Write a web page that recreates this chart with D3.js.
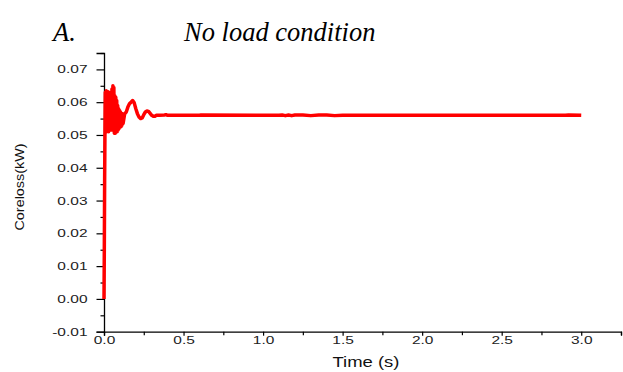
<!DOCTYPE html>
<html>
<head>
<meta charset="utf-8">
<script src="https://cdn.jsdelivr.net/npm/d3@7"></script>
<style>
  html, body { margin: 0; padding: 0; background: #fff; }
  svg { display: block; }
</style>
</head>
<body>
<svg id="chart" width="623" height="372"></svg>
<script>
// Core loss transient, no load condition
const timeS = [
  0, 0.002, 0.004, 0.006, 0.008, 0.011, 0.014, 0.017, 0.020, 0.023, 0.026, 0.029,
  0.032, 0.035, 0.038, 0.041, 0.044, 0.047, 0.050, 0.053, 0.056, 0.059, 0.062,
  0.065, 0.068, 0.071, 0.074, 0.077, 0.080, 0.083, 0.086, 0.089, 0.092, 0.095,
  0.098, 0.101, 0.104, 0.107, 0.110, 0.113, 0.116, 0.120, 0.130, 0.140, 0.150,
  0.160, 0.170, 0.180, 0.190, 0.200, 0.210, 0.220, 0.230, 0.240, 0.250, 0.260,
  0.270, 0.280, 0.290, 0.300, 0.310, 0.320, 0.330, 0.350, 0.380, 0.390, 0.400,
  0.600, 0.610, 1.100, 1.120, 1.140, 1.160, 1.180, 1.200, 1.250, 1.300, 1.350,
  1.400, 1.450, 1.500, 2.000, 2.500, 2.900, 2.920, 3.000
];
const coreLossKW = [
  0.000, 0.015, 0.036, 0.051, 0.063, 0.052, 0.0635, 0.051, 0.063, 0.0525, 0.0632, 0.051,
  0.0628, 0.052, 0.0625, 0.0515, 0.063, 0.052, 0.064, 0.0515, 0.065, 0.052, 0.0645,
  0.0505, 0.062, 0.0505, 0.0615, 0.051, 0.0605, 0.051, 0.059, 0.0515, 0.058, 0.052,
  0.0575, 0.0525, 0.057, 0.0525, 0.0565, 0.053, 0.0565, 0.0535, 0.0565, 0.057, 0.0585,
  0.0595, 0.060, 0.0605, 0.0598, 0.058, 0.0565, 0.0555, 0.055, 0.0552, 0.0562, 0.057,
  0.0573, 0.0572, 0.0566, 0.056, 0.0557, 0.0557, 0.056, 0.056, 0.0561, 0.0562, 0.056,
  0.056, 0.0561, 0.056, 0.0561, 0.0559, 0.0561, 0.0559, 0.0561, 0.0561, 0.0559, 0.0561,
  0.0561, 0.0559, 0.056, 0.056, 0.056, 0.056, 0.0561, 0.056
];
const xMajorTicks = [0, 0.5, 1.0, 1.5, 2.0, 2.5, 3.0];
const xMinorTicks = [0.25, 0.75, 1.25, 1.75, 2.25, 2.75, 3.25];
const yMajorTicks = [-0.01, 0, 0.01, 0.02, 0.03, 0.04, 0.05, 0.06, 0.07];
const yMinorTicks = [-0.005, 0.005, 0.015, 0.025, 0.035, 0.045, 0.055, 0.065, 0.075];

const svg = d3.select("#chart");
const x = d3.scaleLinear().domain([0, 3.25]).range([104, 621]);
const y = d3.scaleLinear().domain([-0.01, 0.075]).range([331.7, 53]);

const labelFont = "'Liberation Sans', Arial, sans-serif";
const serifFont = "'Liberation Serif', 'Times New Roman', serif";
const stretch = 1.55;
// plain hyphen for negatives
const fmt = p => d => d3.format(p)(d).replace("\u2212", "-");

// Title
svg.append("text").attr("x", 53).attr("y", 41)
  .attr("font-family", serifFont).attr("font-style", "italic")
  .attr("font-size", 26.5).attr("fill", "#000")
  .text("A.");
svg.append("text").attr("x", 184).attr("y", 41)
  .attr("font-family", serifFont).attr("font-style", "italic")
  .attr("font-size", 26.5).attr("fill", "#000")
  .text("No load condition");

// Y axis
const yAxis = svg.append("g").attr("transform", `translate(${x(0)},0)`)
  .call(d3.axisLeft(y).tickValues(yMajorTicks).tickSize(7.5).tickPadding(0)
    .tickFormat(fmt(".2f")));
svg.append("g").attr("transform", `translate(${x(0)},0)`)
  .call(d3.axisLeft(y).tickValues(yMinorTicks).tickSize(3.5).tickFormat(""))
  .select(".domain").remove();

// X axis
const xAxis = svg.append("g").attr("transform", `translate(0,${y(-0.01)})`)
  .call(d3.axisBottom(x).tickValues(xMajorTicks).tickSize(4).tickPadding(0)
    .tickFormat(fmt(".1f")));
svg.append("g").attr("transform", `translate(0,${y(-0.01)})`)
  .call(d3.axisBottom(x).tickValues(xMinorTicks).tickSize(3.5).tickFormat(""))
  .select(".domain").remove();

svg.selectAll(".domain").attr("stroke", "#000").attr("stroke-width", 1.3);
svg.selectAll(".tick line").attr("stroke", "#000").attr("stroke-width", 1.2);

// Horizontally stretched tick labels
yAxis.selectAll(".tick text")
  .attr("font-family", labelFont).attr("font-size", 10).attr("fill", "#222")
  .attr("x", -16.5 / stretch).attr("dy", "0.35em")
  .attr("transform", `scale(${stretch},1)`);
xAxis.selectAll(".tick text")
  .attr("font-family", labelFont).attr("font-size", 10).attr("fill", "#222")
  .attr("x", 0).attr("y", 12).attr("dy", 0)
  .attr("transform", `scale(${stretch},1)`);

// Axis titles
svg.append("text")
  .attr("transform", `translate(366,367) scale(1.32,1)`)
  .attr("text-anchor", "middle").attr("font-family", labelFont)
  .attr("font-size", 14).attr("fill", "#111")
  .text("Time (s)");
svg.append("text")
  .attr("transform", "translate(24,187) rotate(-90)")
  .attr("text-anchor", "middle").attr("font-family", labelFont)
  .attr("font-size", 12).attr("fill", "#111")
  .attr("textLength", 87).attr("lengthAdjust", "spacingAndGlyphs")
  .text("Coreloss(kW)");

// Series
const points = timeS.map((t, i) => [t, coreLossKW[i]]);
const line = d3.line().x(d => x(d[0])).y(d => y(d[1]));
svg.append("path").datum(points)
  .attr("d", line).attr("fill", "none")
  .attr("stroke", "#ff0000").attr("stroke-width", 3.5)
  .attr("stroke-linejoin", "round");
</script>
</body>
</html>
